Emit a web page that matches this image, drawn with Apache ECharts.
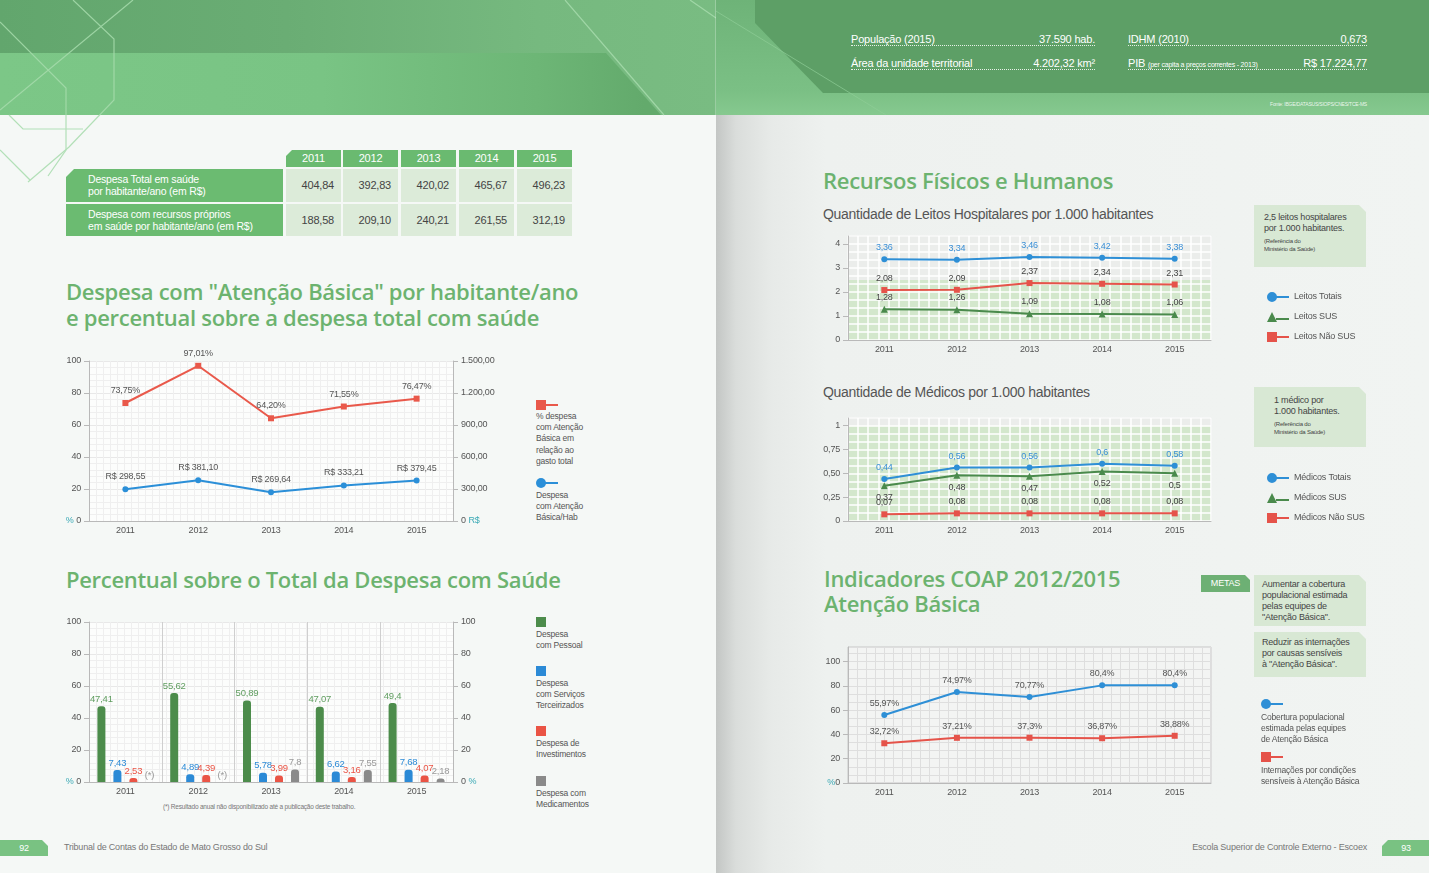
<!DOCTYPE html>
<html lang="pt-BR">
<head>
<meta charset="utf-8">
<title>Saúde - despesas e recursos</title>
<script src="https://cdn.jsdelivr.net/npm/echarts@6.0.0/dist/echarts.min.js"></script>
<style>
  html, body { margin: 0; padding: 0; }
  body { position: relative; width: 1429px; height: 873px; overflow: hidden; background: #f5f8f6;
         font-family: 'Liberation Sans', Arial, sans-serif; color: #555; letter-spacing: -0.2px; }
  .abs { position: absolute; }
  .title { font-family: 'Open Sans', 'Noto Sans', sans-serif; font-weight: 600; color: #6cb36f; font-size: 22px; line-height: 26px; letter-spacing: -0.3px; white-space: nowrap; }
  .subtitle { font-size: 14px; color: #555; white-space: nowrap; letter-spacing: -0.3px; }
  .info { display: flex; justify-content: space-between; align-items: flex-end; color: #fff; font-size: 11px; height: 15px;
          border-bottom: 1px dotted rgba(255,255,255,0.85); white-space: nowrap; }
  .info small { font-size: 7px; }
  .tcell { position: absolute; box-sizing: border-box; font-size: 11px; white-space: nowrap; }
  .th { background: #6aba70; color: #fff; text-align: center; line-height: 17px; height: 17px; }
  .tlab { background: #6bbb71; color: #fff; font-size: 10.5px; line-height: 12px; padding: 4px 0 0 22px; }
  .tval { background: #dcebd9; color: #444; text-align: right; padding-right: 7px; }
  .box { position: absolute; background: #d8e8d4; color: #444; font-size: 9px; line-height: 11px; box-sizing: border-box;
         clip-path: polygon(0 0, calc(100% - 7px) 0, 100% 7px, 100% 100%, 0 100%); white-space: nowrap; }
  .box .ref { font-size: 6px; line-height: 8px; display: block; margin-top: 3px; }
  .lg { position: absolute; font-size: 8.5px; line-height: 11.2px; color: #555; white-space: nowrap; }
  .icon { position: absolute; height: 10px; }
  .icon .m { position: absolute; left: 0; top: 0; width: 10px; height: 10px; }
  .icon .l { position: absolute; left: 9px; top: 4px; width: 13px; height: 2px; }
  .chart { position: absolute; }
  .foot { position: absolute; font-size: 9px; color: #777; white-space: nowrap; }
  .tab { position: absolute; top: 840px; width: 48px; height: 16px; background: #79c282; color: #fff; font-size: 9px; line-height: 16px; text-align: center; }
</style>
</head>
<body>

<!-- cabeçalho página esquerda -->
<div class="abs" style="left:0;top:0;width:716px;height:115px;background:linear-gradient(to right,#62a66d 0%,#6aad74 40%,#76b97f 75%,#79bc82 100%);"></div>
<div class="abs" style="left:0;top:53px;width:716px;height:62px;background:linear-gradient(to right,#7cc787 0%,#79c484 45%,#6db676 75%,#63aa6c 90%);clip-path:polygon(0 0,606px 0,661px 62px,0 62px);"></div>
<svg class="abs" style="left:0;top:0" width="716" height="200">
  <g fill="none" stroke="#a7dcad" stroke-width="1.2" opacity="0.85">
    <polyline points="73,0 114,39 114,100 69,147 28,182"/>
    <polyline points="133,0 0,110"/>
    <polyline points="0,22 66,88 66,150 48,176"/>
    <polyline points="9,115 23,129 83,129"/>
    <polyline points="0,150 30,180"/>
    <polyline points="565,0 664,115"/>
    <polyline points="690,0 716,18"/>
  </g>
</svg>

<!-- cabeçalho página direita -->
<div class="abs" style="left:716px;top:0;width:713px;height:115px;background:linear-gradient(to bottom,#6eb378 0%,#7bc085 80%,#86c98f 100%);"></div>
<div class="abs" style="left:755px;top:0;width:674px;height:93px;background:#5d9f66;clip-path:polygon(0 0,100% 0,100% 100%,68px 100%,0 23px);"></div>
<svg class="abs" style="left:716px;top:0" width="200" height="116">
  <polyline points="-10,5 170,115" fill="none" stroke="#8fcd97" stroke-width="1" opacity="0.7"/>
</svg>
<div class="abs" style="left:715px;top:0;width:1px;height:115px;background:rgba(255,255,255,0.25);"></div>
<div class="abs" style="left:716px;top:115px;width:713px;height:758px;background:linear-gradient(to right,#c3c6c4 0px,#dadddb 20px,#e7eae8 55px,#eef1ef 110px,#f1f4f2 100%);"></div>

<div class="abs info" style="left:851px;top:30px;width:244px;"><span>População (2015)</span><span>37.590 hab.</span></div>
<div class="abs info" style="left:851px;top:54px;width:244px;"><span>Área da unidade territorial</span><span>4.202,32 km²</span></div>
<div class="abs info" style="left:1128px;top:30px;width:239px;"><span>IDHM (2010)</span><span>0,673</span></div>
<div class="abs info" style="left:1128px;top:54px;width:239px;"><span>PIB <small>(per capita a preços correntes - 2013)</small></span><span>R$ 17.224,77</span></div>
<div class="abs" style="right:62px;top:101px;font-size:5px;color:rgba(255,255,255,0.85);white-space:nowrap;">Fonte: IBGE/DATASUS/SIOPS/CNES/TCE-MS</div>

<!-- tabela -->
<div id="tabela"></div>

<!-- títulos página esquerda -->
<div class="abs title" style="left:66px;top:278px;">Despesa com "Atenção Básica" por habitante/ano<br>e percentual sobre a despesa total com saúde</div>
<div class="abs title" style="left:66px;top:566px;">Percentual sobre o Total da Despesa com Saúde</div>

<div id="chart-ab" class="chart" style="left:55px;top:345px;width:460px;height:195px;"></div>
<div id="chart-pct" class="chart" style="left:55px;top:605px;width:460px;height:197px;"></div>
<div class="abs" style="left:163px;top:803px;font-size:6.5px;color:#777;white-space:nowrap;">(*) Resultado anual não disponibilizado até a publicação deste trabalho.</div>

<!-- legendas página esquerda -->
<div class="icon" style="left:536px;top:400px;"><span class="m" style="background:#e9594b"></span><span class="l" style="background:#e9594b"></span></div>
<div class="lg" style="left:536px;top:411px;">% despesa<br>com Atenção<br>Básica em<br>relação ao<br>gasto total</div>
<div class="icon" style="left:536px;top:478px;"><span class="m" style="background:#2b8fd8;border-radius:50%"></span><span class="l" style="background:#2b8fd8"></span></div>
<div class="lg" style="left:536px;top:490px;">Despesa<br>com Atenção<br>Básica/Hab</div>

<div class="icon" style="left:536px;top:617px;"><span class="m" style="background:#4c8c4b"></span></div>
<div class="lg" style="left:536px;top:629px;">Despesa<br>com Pessoal</div>
<div class="icon" style="left:536px;top:666px;"><span class="m" style="background:#2b8ad6"></span></div>
<div class="lg" style="left:536px;top:678px;">Despesa<br>com Serviços<br>Terceirizados</div>
<div class="icon" style="left:536px;top:726px;"><span class="m" style="background:#ea5445"></span></div>
<div class="lg" style="left:536px;top:738px;">Despesa de<br>Investimentos</div>
<div class="icon" style="left:536px;top:776px;"><span class="m" style="background:#8a8a8a"></span></div>
<div class="lg" style="left:536px;top:788px;">Despesa com<br>Medicamentos</div>

<!-- página direita -->
<div class="abs title" style="left:823px;top:167px;">Recursos Físicos e Humanos</div>
<div class="abs subtitle" style="left:823px;top:206px;">Quantidade de Leitos Hospitalares por 1.000 habitantes</div>
<div class="box" style="left:1254px;top:205px;width:112px;height:62px;padding:7px 0 0 10px;">2,5 leitos hospitalares<br>por 1.000 habitantes.<span class="ref">(Referência do<br>Ministério da Saúde)</span></div>
<div id="chart-leitos" class="chart" style="left:815px;top:225px;width:560px;height:130px;"></div>

<div class="abs subtitle" style="left:823px;top:384px;">Quantidade de Médicos por 1.000 habitantes</div>
<div class="box" style="left:1254px;top:387px;width:112px;height:60px;padding:8px 0 0 20px;">1 médico por<br>1.000 habitantes.<span class="ref">(Referência do<br>Ministério da Saúde)</span></div>
<div id="chart-medicos" class="chart" style="left:815px;top:410px;width:560px;height:125px;"></div>

<div class="abs title" style="left:824px;top:566px;line-height:25px;">Indicadores COAP 2012/2015<br>Atenção Básica</div>
<div class="abs" style="left:1201px;top:575px;width:49px;height:17px;background:#6db074;color:#fff;font-size:9px;line-height:17px;text-align:center;clip-path:polygon(0 0,calc(100% - 5px) 0,100% 5px,100% 100%,0 100%);">METAS</div>
<div class="box" style="left:1254px;top:575px;width:112px;height:51px;padding:4px 0 0 8px;">Aumentar a cobertura<br>populacional estimada<br>pelas equipes de<br>"Atenção Básica".</div>
<div class="box" style="left:1254px;top:632px;width:112px;height:45px;padding:5px 0 0 8px;">Reduzir as internações<br>por causas sensíveis<br>à "Atenção Básica".</div>
<div id="chart-coap" class="chart" style="left:815px;top:640px;width:560px;height:160px;"></div>

<div class="icon" style="left:1261px;top:699px;"><span class="m" style="background:#2e8fd6;border-radius:50%"></span><span class="l" style="background:#2e8fd6"></span></div>
<div class="lg" style="left:1261px;top:712px;">Cobertura populacional<br>estimada pelas equipes<br>de Atenção Básica</div>
<div class="icon" style="left:1261px;top:752px;"><span class="m" style="background:#e5534a"></span><span class="l" style="background:#e5534a"></span></div>
<div class="lg" style="left:1261px;top:765px;">Internações por condições<br>sensíveis à Atenção Básica</div>

<!-- rodapé -->
<div class="tab" style="left:0;clip-path:polygon(0 0,42px 0,48px 6px,48px 100%,0 100%);">92</div>
<div class="foot" style="left:64px;top:842px;">Tribunal de Contas do Estado de Mato Grosso do Sul</div>
<div class="foot" style="right:62px;top:842px;">Escola Superior de Controle Externo - Escoex</div>
<div class="tab" style="left:1382px;clip-path:polygon(6px 0,100% 0,100% 100%,0 100%,0 6px);">93</div>

<script>
var FONT = "'Liberation Sans', Arial, sans-serif";

var years = ['2011', '2012', '2013', '2014', '2015'];

// tabela: despesa por habitante/ano (R$)
var tableRowLabels = ['Despesa Total em saúde\npor habitante/ano (em R$)', 'Despesa com recursos próprios\nem saúde por habitante/ano (em R$)'];
var despesaTotalHab = [404.84, 392.83, 420.02, 465.67, 496.23];
var despesaPropriaHab = [188.58, 209.10, 240.21, 261.55, 312.19];

// Atenção Básica
var pctAtencaoBasica = [73.75, 97.01, 64.20, 71.55, 76.47];
var despAtencaoBasicaHab = [298.55, 381.10, 269.64, 333.21, 379.45];

// percentual sobre o total da despesa
var pctPessoal = [47.41, 55.62, 50.89, 47.07, 49.4];
var pctTerceirizados = [7.43, 4.89, 5.78, 6.62, 7.68];
var pctInvestimentos = [2.53, 4.39, 3.99, 3.16, 4.07];
var pctMedicamentos = [0, 0, 7.8, 7.55, 2.18];
var medicamentosDisponivel = [false, false, true, true, true]; // (*) 2011 e 2012

// leitos por 1.000 habitantes
var leitosTotais = [3.36, 3.34, 3.46, 3.42, 3.38];
var leitosSUS = [1.28, 1.26, 1.09, 1.08, 1.06];
var leitosNaoSUS = [2.08, 2.09, 2.37, 2.34, 2.31];
var leitosReferencia = 2.5;

// médicos por 1.000 habitantes
var medicosTotais = [0.44, 0.56, 0.56, 0.6, 0.58];
var medicosSUS = [0.37, 0.48, 0.47, 0.52, 0.5];
var medicosNaoSUS = [0.07, 0.08, 0.08, 0.08, 0.08];
var medicosReferencia = 1;

// COAP
var coberturaAB = [55.97, 74.97, 70.77, 80.4, 80.4];
var internacoesAB = [32.72, 37.21, 37.3, 36.87, 38.88];

var RED = '#e9594b', BLUE = '#2b8fd8', AXIS_GRAY = '#b9b9b9', TEAL = '#3aa9b5';

function br(v) { return String(v).replace('.', ','); }
function br2(v) { return v.toFixed(2).replace('.', ','); }
function milhar(v) {
  var s = v.toFixed(2).split('.');
  return s[0].replace(/\B(?=(\d{3})+(?!\d))/g, '.') + ',' + s[1];
}

// monta a tabela
(function () {
  var wrap = document.getElementById('tabela');
  var colX = [286, 343, 401, 459, 517];
  var html = '';
  years.forEach(function (y, i) {
    var clip = i === 0 ? 'clip-path:polygon(6px 0,100% 0,100% 100%,0 100%,0 6px);' : '';
    html += '<div class="tcell th" style="left:' + colX[i] + 'px;top:150px;width:55px;' + clip + '">' + y + '</div>';
  });
  [despesaTotalHab, despesaPropriaHab].forEach(function (row, r) {
    var top = r === 0 ? 169 : 204, h = r === 0 ? 33 : 32;
    var clip = r === 0 ? 'clip-path:polygon(8px 0,100% 0,100% 100%,0 100%,0 8px);' : '';
    html += '<div class="tcell tlab" style="left:66px;top:' + top + 'px;width:217px;height:' + h + 'px;' + clip + '">' + tableRowLabels[r].replace('\n', '<br>') + '</div>';
    row.forEach(function (v, i) {
      html += '<div class="tcell tval" style="left:' + colX[i] + 'px;top:' + top + 'px;width:55px;height:' + h + 'px;line-height:' + h + 'px;">' + br2(v) + '</div>';
    });
  });
  wrap.innerHTML = html;
})();

// linhas finas verticais do fundo
function fineGridX(max, color, width) {
  return {
    type: 'value', min: 0, max: max, interval: 1, z: 2,
    axisLine: { show: false }, axisTick: { show: false }, axisLabel: { show: false },
    splitLine: { show: true, lineStyle: { color: color, width: width || 1 } }
  };
}

function categoryAxis(splitColor) {
  return {
    type: 'category', data: years, z: 2,
    axisLine: { lineStyle: { color: AXIS_GRAY } },
    axisTick: { lineStyle: { color: AXIS_GRAY } },
    axisLabel: { color: '#555', fontSize: 9, margin: 5 },
    splitLine: { show: !!splitColor, lineStyle: { color: splitColor || '#ccc' } }
  };
}

// Despesa com Atenção Básica
var chartAB = echarts.init(document.getElementById('chart-ab'));
chartAB.setOption({
  animation: false,
  textStyle: { fontFamily: FONT },
  grid: { left: 34, right: 62, top: 16, bottom: 19, show: true, backgroundColor: '#fcfdfc', borderWidth: 0, z: 0 },
  xAxis: [categoryAxis(null), fineGridX(52, '#efefef')],
  yAxis: [
    {
      type: 'value', min: 0, max: 100, interval: 20, z: 2,
      axisLine: { show: true, lineStyle: { color: AXIS_GRAY } },
      axisTick: { show: true, lineStyle: { color: AXIS_GRAY } },
      axisLabel: { color: '#555', fontSize: 9, margin: 8,
        formatter: function (v) { return v === 0 ? '{p|%} 0' : v; },
        rich: { p: { color: TEAL, fontSize: 9 } } },
      splitLine: { lineStyle: { color: '#e8e8e8' } },
      minorTick: { show: false, splitNumber: 5 },
      minorSplitLine: { show: true, lineStyle: { color: '#efefef' } }
    },
    {
      type: 'value', min: 0, max: 1500, interval: 300, position: 'right', z: 2,
      axisLine: { show: true, lineStyle: { color: AXIS_GRAY } },
      axisTick: { show: true, lineStyle: { color: AXIS_GRAY } },
      axisLabel: { color: '#555', fontSize: 9, margin: 8,
        formatter: function (v) { return v === 0 ? '0 {p|R$}' : milhar(v); },
        rich: { p: { color: TEAL, fontSize: 9 } } },
      splitLine: { show: false }
    }
  ],
  series: [
    {
      name: '% despesa com Atenção Básica em relação ao gasto total', type: 'line', z: 3,
      data: pctAtencaoBasica, color: RED, symbol: 'rect', symbolSize: 6, lineStyle: { width: 2 },
      label: { show: true, position: 'top', distance: 5, color: '#555', fontSize: 9,
        formatter: function (p) { return br2(p.value) + '%'; } }
    },
    {
      name: 'Despesa com Atenção Básica/Hab', type: 'line', z: 3, yAxisIndex: 1,
      data: despAtencaoBasicaHab, color: BLUE, symbol: 'circle', symbolSize: 6, lineStyle: { width: 2 },
      label: { show: true, position: 'top', distance: 5, color: '#555', fontSize: 9,
        formatter: function (p) { return 'R$ ' + br2(p.value); } }
    }
  ]
});

// Percentual sobre o total da despesa
function barSeries(name, data, color, labelColor, fmt) {
  return {
    name: name, type: 'bar', data: data, z: 3, barWidth: 8, barGap: '100%',
    itemStyle: { color: color, borderRadius: [3, 3, 0, 0] },
    label: { show: true, position: 'top', distance: 2, color: labelColor, fontSize: 9.5,
      formatter: fmt || function (p) { return br(p.value); } }
  };
}

var chartPct = echarts.init(document.getElementById('chart-pct'));
chartPct.setOption({
  animation: false,
  textStyle: { fontFamily: FONT },
  grid: { left: 34, right: 62, top: 17, bottom: 20, show: true, backgroundColor: '#fcfdfc', borderWidth: 0, z: 0 },
  xAxis: [categoryAxis('#cfcfcf'), fineGridX(52, '#efefef')],
  yAxis: [
    {
      type: 'value', min: 0, max: 100, interval: 20, z: 2,
      axisLine: { show: true, lineStyle: { color: AXIS_GRAY } },
      axisTick: { show: true, lineStyle: { color: AXIS_GRAY } },
      axisLabel: { color: '#555', fontSize: 9, margin: 8,
        formatter: function (v) { return v === 0 ? '{p|%} 0' : v; },
        rich: { p: { color: TEAL, fontSize: 9 } } },
      splitLine: { lineStyle: { color: '#e8e8e8' } },
      minorTick: { show: false, splitNumber: 5 },
      minorSplitLine: { show: true, lineStyle: { color: '#efefef' } }
    },
    {
      type: 'value', min: 0, max: 100, interval: 20, position: 'right', z: 2,
      axisLine: { show: true, lineStyle: { color: AXIS_GRAY } },
      axisTick: { show: true, lineStyle: { color: AXIS_GRAY } },
      axisLabel: { color: '#555', fontSize: 9, margin: 8,
        formatter: function (v) { return v === 0 ? '0 {p|%}' : v; },
        rich: { p: { color: TEAL, fontSize: 9 } } },
      splitLine: { show: false }
    }
  ],
  series: [
    barSeries('Despesa com Pessoal', pctPessoal, '#4c8c4b', '#5f9d5f'),
    barSeries('Despesa com Serviços Terceirizados', pctTerceirizados, '#2b8ad6', '#2b8ad6'),
    barSeries('Despesa de Investimentos', pctInvestimentos, '#ea5445', '#ea5445'),
    barSeries('Despesa com Medicamentos', pctMedicamentos, '#8a8a8a', '#999999', function (p) {
      return medicamentosDisponivel[p.dataIndex] ? br(p.value) : '(*)';
    })
  ]
});

// ícones de legenda: marcador + traço
var ICON_CIRCLE = 'path://M5,0A5,5 0 1 1 5,10A5,5 0 1 1 5,0Z M9,4H22V6H9Z';
var ICON_TRIANGLE = 'path://M5,0L10,10L0,10Z M9,6H22V8H9Z';
var ICON_SQUARE = 'path://M0,0H10V10H0Z M10,4H22V6H10Z';

// gráficos quadriculados da página direita
function gradeChart(id, cfg) {
  var chart = echarts.init(document.getElementById(id));
  var series = cfg.series.map(function (s) {
    return {
      name: s.name, type: 'line', data: s.data, z: 3, color: s.color,
      symbol: s.symbol, symbolSize: s.symbol === 'triangle' ? 7 : 6, lineStyle: { width: 2 },
      label: { show: true, position: s.labelPos || 'top', distance: 4, color: s.labelColor, fontSize: 9,
        formatter: function (p) { return br(p.value) + (cfg.suffix || ''); } }
    };
  });
  if (cfg.ref != null) {
    series.unshift({
      name: 'referência', type: 'line', data: [], z: 1, silent: true,
      markArea: { silent: true, itemStyle: { color: '#d3e7cc' }, data: [[{ yAxis: 0 }, { yAxis: cfg.ref }]] }
    });
  }
  chart.setOption({
    animation: false,
    textStyle: { fontFamily: FONT },
    grid: { left: 33, right: 164, top: cfg.top, bottom: cfg.bottom, show: true,
      backgroundColor: cfg.bg, borderColor: '#c6c6c6', borderWidth: 1, z: 0 },
    legend: cfg.legend ? {
      orient: 'vertical', left: 447, top: cfg.legendTop, itemWidth: 22, itemHeight: 10, itemGap: 10,
      textStyle: { color: '#555', fontSize: 9, fontFamily: FONT },
      data: cfg.series.map(function (s) { return { name: s.name, icon: s.icon }; })
    } : { show: false },
    xAxis: [categoryAxis(null), fineGridX(cfg.cols, cfg.lineColor, cfg.lineWidth)],
    yAxis: {
      type: 'value', min: 0, max: cfg.max, interval: cfg.interval, z: 2,
      axisLine: { show: true, lineStyle: { color: AXIS_GRAY } },
      axisTick: { show: true, lineStyle: { color: AXIS_GRAY } },
      axisLabel: { color: '#555', fontSize: 9, margin: 8, showMaxLabel: false, formatter: cfg.yFmt,
        rich: { p: { color: TEAL, fontSize: 9 } } },
      splitLine: { lineStyle: { color: cfg.lineColor, width: cfg.lineWidth } },
      minorTick: { show: false, splitNumber: cfg.minor },
      minorSplitLine: { show: true, lineStyle: { color: cfg.lineColor, width: cfg.lineWidth } }
    },
    series: series
  });
  return chart;
}

var chartLeitos = gradeChart('chart-leitos', {
  top: 11, bottom: 15, max: 4.33, interval: 1, minor: 3, cols: 36,
  bg: '#ebedeb', lineColor: '#ffffff', lineWidth: 1.5, ref: leitosReferencia,
  legend: true, legendTop: 62,
  yFmt: function (v) { return String(v); },
  series: [
    { name: 'Leitos Totais', data: leitosTotais, color: '#2e8fd6', symbol: 'circle', icon: ICON_CIRCLE, labelColor: '#3a8fd6' },
    { name: 'Leitos SUS', data: leitosSUS, color: '#4a8a4c', symbol: 'triangle', icon: ICON_TRIANGLE, labelColor: '#444' },
    { name: 'Leitos Não SUS', data: leitosNaoSUS, color: '#e5534a', symbol: 'rect', icon: ICON_SQUARE, labelColor: '#444' }
  ]
});

var chartMedicos = gradeChart('chart-medicos', {
  top: 8, bottom: 14, max: 1.08, interval: 0.25, minor: 3, cols: 36,
  bg: '#ebedeb', lineColor: '#ffffff', lineWidth: 1.5, ref: medicosReferencia,
  legend: true, legendTop: 58,
  yFmt: function (v) { return (v === 0 || v === 1) ? String(v) : br2(v); },
  series: [
    { name: 'Médicos Totais', data: medicosTotais, color: '#2e8fd6', symbol: 'circle', icon: ICON_CIRCLE, labelColor: '#3a8fd6' },
    { name: 'Médicos SUS', data: medicosSUS, color: '#4a8a4c', symbol: 'triangle', icon: ICON_TRIANGLE, labelColor: '#444', labelPos: 'bottom' },
    { name: 'Médicos Não SUS', data: medicosNaoSUS, color: '#e5534a', symbol: 'rect', icon: ICON_SQUARE, labelColor: '#444' }
  ]
});

var chartCoap = gradeChart('chart-coap', {
  top: 7, bottom: 17, max: 112, interval: 20, minor: 3, cols: 40, suffix: '%',
  bg: '#f3f4f3', lineColor: '#dedede', lineWidth: 1, ref: null, legend: false,
  yFmt: function (v) { return v === 0 ? '{p|%}0' : String(v); },
  series: [
    { name: 'Cobertura populacional estimada pelas equipes de Atenção Básica', data: coberturaAB, color: '#2e8fd6', symbol: 'circle', labelColor: '#555' },
    { name: 'Internações por condições sensíveis à Atenção Básica', data: internacoesAB, color: '#e5534a', symbol: 'rect', labelColor: '#555' }
  ]
});

window.addEventListener('resize', function () {
  [chartAB, chartPct, chartLeitos, chartMedicos, chartCoap].forEach(function (c) { c.resize(); });
});
</script>
</body>
</html>
